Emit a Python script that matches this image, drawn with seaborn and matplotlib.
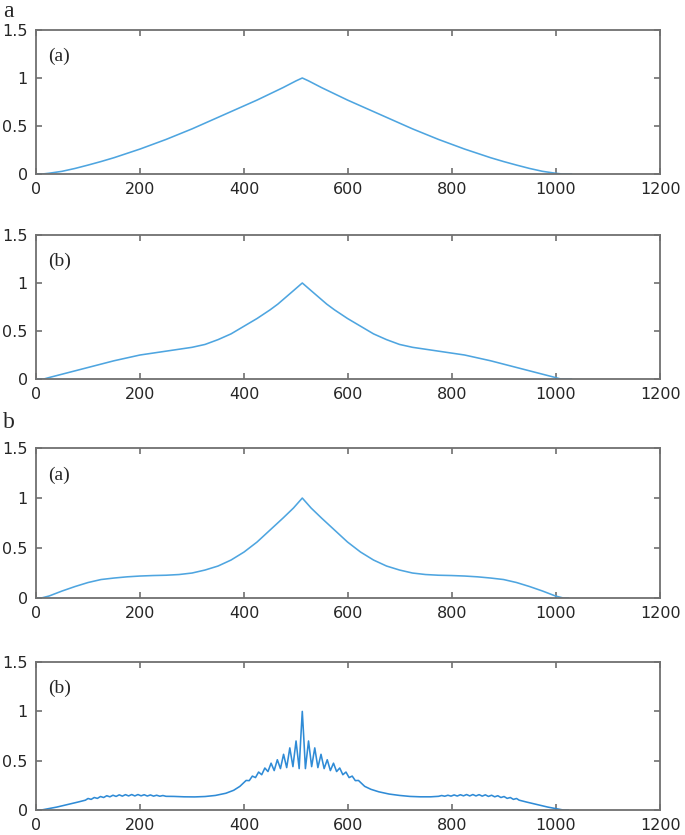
import matplotlib
matplotlib.use('Agg')
import matplotlib.pyplot as plt
import pandas as pd
import seaborn as sns

# panel a(a)
x_aa = [0, 12, 25, 50, 75, 100, 125, 150, 175, 200, 225, 250, 275, 300,
        325, 350, 375, 400, 425, 450, 475, 500, 512,
        524, 549, 574, 599, 624, 649, 674, 699, 724, 749, 774, 799, 824,
        849, 874, 899, 924, 949, 974, 999, 1012, 1030]
y_aa = [0, 0.0, 0.008, 0.028, 0.058, 0.093, 0.13, 0.17, 0.215, 0.26, 0.31,
        0.36, 0.415, 0.47, 0.53, 0.59, 0.65, 0.71, 0.77, 0.835, 0.9, 0.97, 1.0,
        0.97, 0.9, 0.835, 0.77, 0.71, 0.65, 0.59, 0.53, 0.47, 0.415, 0.36,
        0.31, 0.26, 0.215, 0.17, 0.13, 0.093, 0.058, 0.028, 0.008, 0.0, 0.0]

# panel a(b)
x_ab = [0, 15, 25, 50, 75, 100, 125, 150, 175, 200, 225, 250, 275, 300,
        325, 350, 375, 400, 425, 450, 465, 480, 495, 512,
        529, 544, 559, 574, 599, 624, 649, 674, 699, 724, 749, 774, 799,
        824, 849, 874, 899, 924, 949, 974, 999, 1009, 1030]
y_ab = [0, 0.0, 0.015, 0.05, 0.085, 0.12, 0.155, 0.19, 0.22, 0.25, 0.27,
        0.29, 0.31, 0.33, 0.36, 0.41, 0.47, 0.55, 0.63, 0.72, 0.78, 0.85,
        0.92, 1.0,
        0.92, 0.85, 0.78, 0.72, 0.63, 0.55, 0.47, 0.41, 0.36, 0.33, 0.31,
        0.29, 0.27, 0.25, 0.22, 0.19, 0.155, 0.12, 0.085, 0.05, 0.015, 0.0, 0.0]

# panel b(a)
x_ba = [0, 10, 25, 50, 75, 100, 125, 150, 175, 200, 225, 250, 275, 300,
        325, 350, 375, 400, 425, 450, 475, 495, 512,
        529, 549, 574, 599, 624, 649, 674, 699, 724, 749, 774, 799, 824,
        849, 874, 899, 924, 949, 974, 999, 1014, 1024]
y_ba = [0, 0.0, 0.02, 0.07, 0.115, 0.155, 0.185, 0.2, 0.212, 0.22, 0.225,
        0.228, 0.235, 0.25, 0.28, 0.32, 0.38, 0.46, 0.56, 0.68, 0.8, 0.9, 1.0,
        0.9, 0.8, 0.68, 0.56, 0.46, 0.38, 0.32, 0.28, 0.25, 0.235, 0.228,
        0.225, 0.22, 0.212, 0.2, 0.185, 0.155, 0.115, 0.07, 0.02, 0.0, 0.0]

# panel b(b): shoulders with ripples, oscillating centre
x_bb = [0, 10, 20, 40, 60, 80, 95,
        100, 106, 112, 118, 124, 130, 136, 142, 148, 154, 160, 166, 172,
        178, 184, 190, 196, 202, 208, 214, 220, 226, 232, 238, 244, 250,
        265, 285, 305, 325, 345, 365, 380, 392,
        398, 404, 410, 416, 422, 428, 434, 440, 446, 452, 458, 464, 470,
        476, 482, 488, 494, 500, 503, 506, 509, 512, 515, 518, 521, 524,
        530, 536, 542, 548, 554, 560, 566, 572, 578, 584, 590, 596, 602,
        608, 614, 620, 626,
        632, 644, 659, 679, 699, 719, 739, 759,
        774, 780, 786, 792, 798, 804, 810, 816, 822, 828, 834, 840, 846,
        852, 858, 864, 870, 876, 882, 888, 894, 900, 906, 912, 918, 924,
        929, 944, 964, 984, 1004, 1014, 1024]
y_bb = [0, 0.0, 0.01, 0.03, 0.055, 0.08, 0.1,
        0.117, 0.108, 0.127, 0.118, 0.137, 0.127, 0.145, 0.134, 0.15, 0.138,
        0.154, 0.141, 0.156, 0.143, 0.157, 0.143, 0.157, 0.144, 0.155, 0.142,
        0.153, 0.141, 0.15, 0.14, 0.147, 0.139,
        0.138, 0.134, 0.133, 0.137, 0.148, 0.17, 0.2, 0.24,
        0.27, 0.3, 0.298, 0.344, 0.329, 0.385, 0.358, 0.426, 0.39, 0.475,
        0.4, 0.51, 0.42, 0.565, 0.43, 0.63, 0.44, 0.7, 0.56, 0.42, 0.72,
        1.0, 0.72, 0.42, 0.56, 0.7,
        0.44, 0.63, 0.43, 0.565, 0.42, 0.51, 0.4, 0.475, 0.39, 0.426, 0.358,
        0.385, 0.329, 0.344, 0.298, 0.3, 0.27,
        0.24, 0.21, 0.185, 0.162, 0.148, 0.138, 0.134, 0.134,
        0.139, 0.147, 0.14, 0.15, 0.141, 0.153, 0.142, 0.155, 0.144, 0.157,
        0.143, 0.157, 0.143, 0.156, 0.141, 0.154, 0.138, 0.15, 0.134, 0.145,
        0.127, 0.137, 0.118, 0.127, 0.108, 0.117,
        0.1, 0.08, 0.055, 0.03, 0.01, 0.0, 0.0]

x_ticks = [0, 200, 400, 600, 800, 1000, 1200]
y_ticks = [0, 0.5, 1, 1.5]
y_ticklabels = ['0', '0.5', '1', '1.5']

sns.set_style('ticks')
plt.rcParams['font.family'] = ['DejaVu Sans']

fig = plt.figure(figsize=(6.85, 8.35), dpi=100)

panels = [
    (x_aa, y_aa, '(a)', [0.0526, 0.7916, 0.911, 0.1725], '#4ea5e0'),
    (x_ab, y_ab, '(b)', [0.0526, 0.5461, 0.911, 0.1725], '#4ea5e0'),
    (x_ba, y_ba, '(a)', [0.0526, 0.2838, 0.911, 0.1796], '#4ea5e0'),
    (x_bb, y_bb, '(b)', [0.0526, 0.0299, 0.911, 0.1772], '#2f8bd6'),
]

for xs, ys, tag, pos, col in panels:
    ax = fig.add_axes(pos)
    df = pd.DataFrame({'x': xs, 'y': ys})
    sns.lineplot(data=df, x='x', y='y', ax=ax, color=col, linewidth=1.15,
                 estimator=None)
    ax.set_xlim(0, 1200)
    ax.set_ylim(0, 1.5)
    ax.set_xticks(x_ticks)
    ax.set_yticks(y_ticks)
    ax.set_yticklabels(y_ticklabels)
    ax.set_xlabel('')
    ax.set_ylabel('')
    ax.tick_params(direction='in', length=4, width=1.2, color='#707070',
                   top=True, right=True, labelsize=11.5, pad=6)
    for s in ax.spines.values():
        s.set_color('#707070')
        s.set_linewidth(1.3)
    ax.text(0.02, 0.82, tag, transform=ax.transAxes, fontsize=14,
            family='Liberation Serif', va='center', ha='left')

# panel group letters
fig.text(0.004, 0.980, 'a', fontsize=17, family='Liberation Serif',
         va='baseline', ha='left')
fig.text(0.004, 0.4874, 'b', fontsize=17, family='Liberation Serif',
         va='baseline', ha='left')

fig.savefig('out.png', dpi=100)
